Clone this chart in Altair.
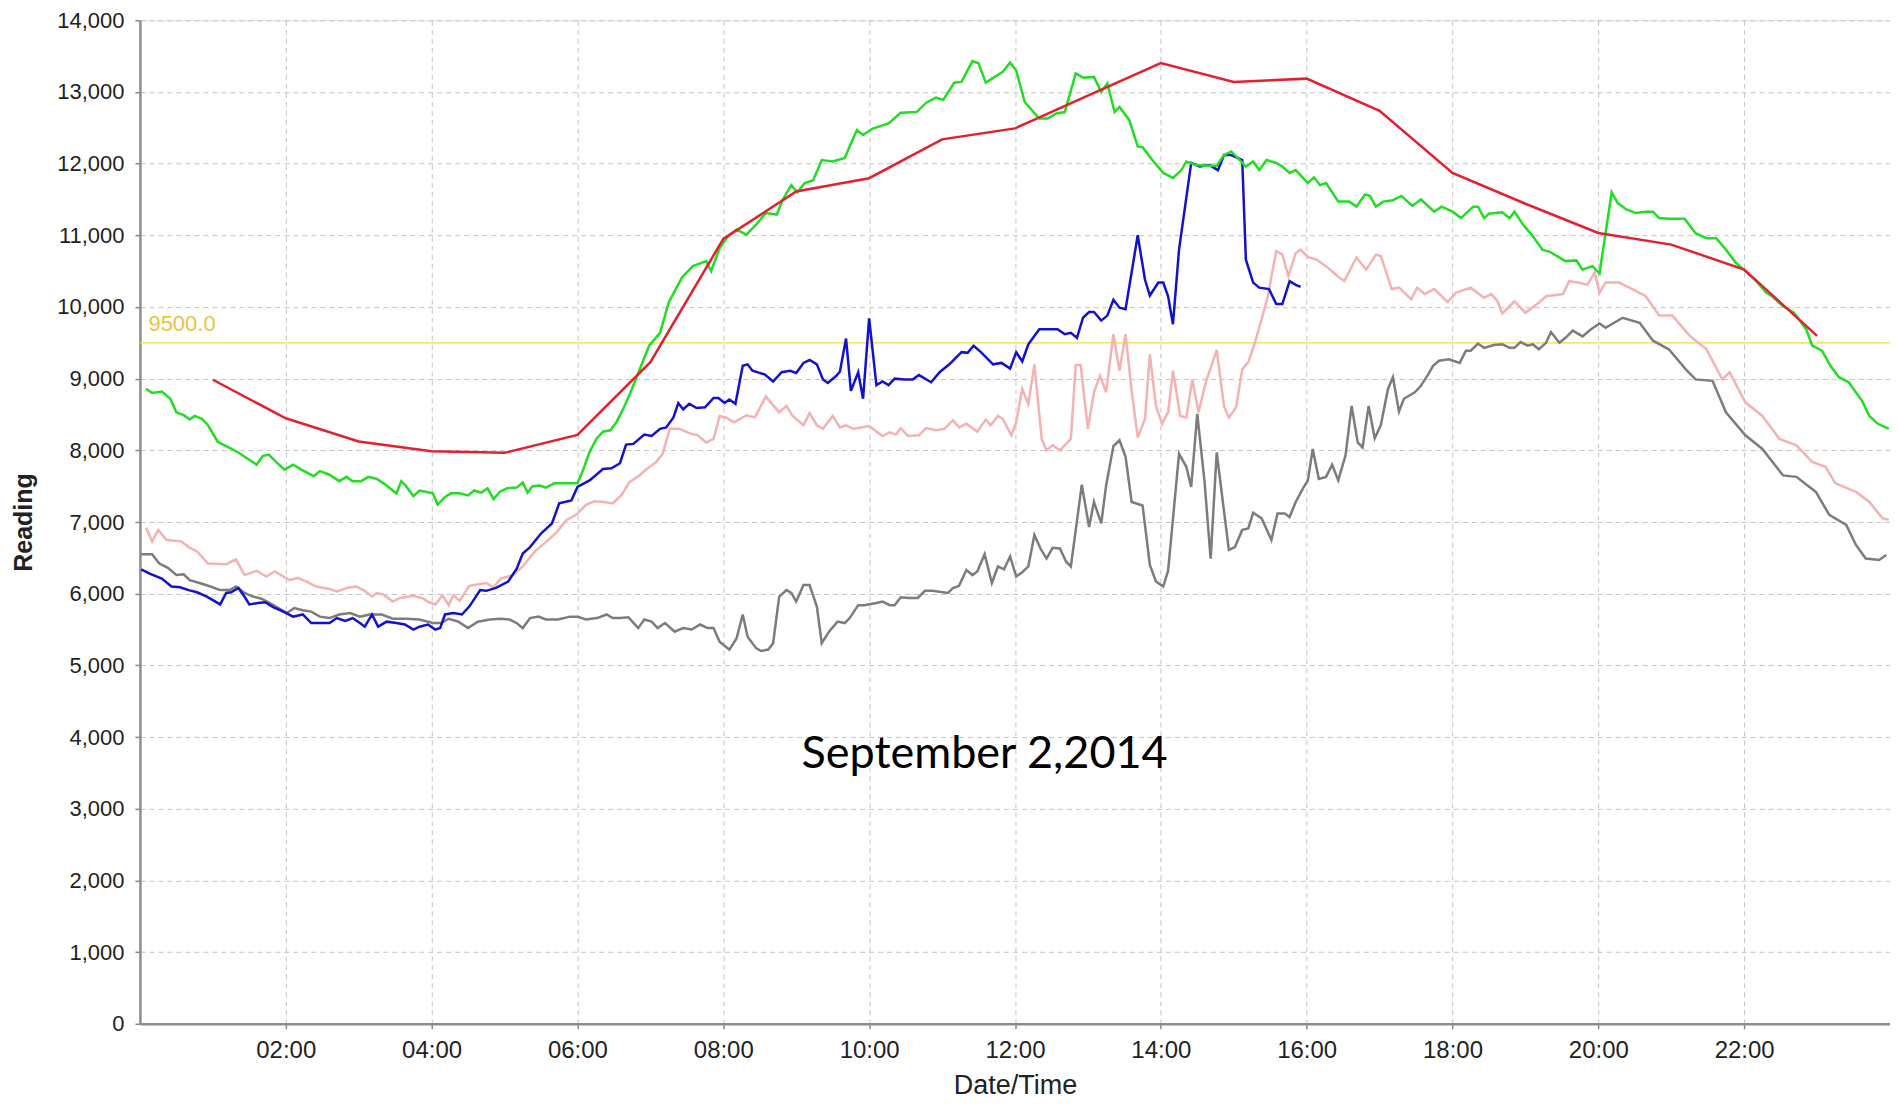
import altair as alt
import pandas as pd

# ---------------- data (minutes after midnight, reading) ----------------
red_min = [60, 120, 180, 240, 300, 360, 420, 480, 540, 600, 660, 720, 780, 840,
           900, 960, 1020, 1080, 1140, 1200, 1260, 1320, 1380]
red_val = [8985, 8447, 8123, 7989, 7965, 8216, 9230, 10949, 11611, 11797, 12339, 12492,
           12950, 13404, 13140, 13186, 12737, 11870, 11440, 11032, 10870, 10523, 9596]

green_min = [5, 10, 18, 25, 30, 36, 41, 45, 51, 56, 64, 73, 81, 89, 96, 101, 106, 112, 119, 126,
             134, 143, 148, 156, 164, 170, 175, 182, 188, 195, 203, 211, 215, 219, 225, 230, 236,
             241, 245, 251, 256, 263, 270, 275, 281, 286, 291, 296, 302, 310, 315, 319, 323, 329,
             334, 341, 348, 354, 360, 365, 370, 376, 381, 387, 392, 398, 403, 419, 428, 435, 446,
             455, 466, 470, 477, 484, 491, 499, 507, 515, 524, 529, 536, 541, 547, 554, 561, 570,
             580, 585, 590, 595, 603, 616, 626, 639, 647, 655, 661, 670, 676, 685, 690, 696, 710,
             716, 721, 728, 740, 747, 754, 761, 770, 776, 785, 791, 796, 802, 806, 814, 821, 825,
             833, 842, 850, 857, 861, 869, 877, 886, 892, 898, 905, 910, 916, 921, 927, 935, 940,
             946, 951, 961, 966, 971, 976, 986, 995, 1001, 1008, 1012, 1017, 1023, 1031, 1038,
             1047, 1054, 1065, 1071, 1080, 1087, 1097, 1101, 1106, 1110, 1121, 1127, 1131, 1138,
             1146, 1154, 1160, 1173, 1182, 1187, 1195, 1201, 1211, 1216, 1223, 1231, 1239, 1245,
             1250, 1258, 1271, 1280, 1289, 1297, 1305, 1313, 1321, 1330, 1338, 1343, 1352, 1361,
             1371, 1376, 1384, 1391, 1398, 1406, 1417, 1423, 1430, 1439]
green_val = [8860, 8800, 8820, 8720, 8530, 8490, 8430, 8480, 8440, 8350, 8120, 8040, 7970, 7880,
             7800, 7920, 7940, 7840, 7730, 7800, 7720, 7640, 7710, 7660, 7570, 7630, 7570, 7570,
             7630, 7600, 7510, 7400, 7570, 7500, 7360, 7440, 7420, 7400, 7240, 7350, 7400, 7400,
             7370, 7440, 7410, 7470, 7320, 7420, 7470, 7480, 7550, 7410, 7500, 7510, 7480, 7540,
             7540, 7540, 7540, 7740, 7980, 8170, 8260, 8280, 8390, 8590, 8780, 9460, 9640, 10060,
             10410, 10570, 10640, 10500, 10820, 10990, 11080, 11010, 11150, 11310, 11290, 11500,
             11700, 11600, 11730, 11770, 12050, 12030, 12080, 12280, 12470, 12400, 12490, 12560,
             12710, 12720, 12850, 12920, 12890, 13130, 13140, 13430, 13400, 13130, 13280, 13410,
             13300, 12860, 12630, 12630, 12700, 12720, 13260, 13200, 13210, 13000, 13120, 12720,
             12790, 12610, 12240, 12230, 12050, 11870, 11800, 11910, 12030, 11980, 11970, 11970,
             12120, 12170, 12050, 11960, 12030, 11910, 12050, 12010, 11960, 11870, 11910, 11730,
             11810, 11700, 11730, 11470, 11470, 11400, 11570, 11550, 11400, 11470, 11490, 11550,
             11410, 11500, 11330, 11400, 11330, 11240, 11400, 11400, 11240, 11300, 11320, 11240,
             11330, 11150, 10990, 10800, 10770, 10640, 10650, 10520, 10570, 10470, 11600, 11450,
             11360, 11310, 11330, 11330, 11240, 11230, 11230, 11030, 10960, 10960, 10800, 10620,
             10500, 10360, 10200, 10150, 10010, 9920, 9690, 9460, 9390, 9180, 9020, 8950, 8690,
             8480, 8370, 8300]

blue_min = [1, 8, 18, 26, 33, 40, 47, 55, 60, 66, 71, 75, 81, 86, 90, 97, 103, 110, 118, 126,
            134, 141, 148, 156, 162, 169, 175, 181, 185, 191, 196, 203, 211, 218, 225, 230, 237,
            243, 247, 251, 258, 265, 271, 280, 285, 293, 303, 310, 315, 321, 330, 339, 345, 355,
            360, 370, 381, 388, 395, 400, 406, 415, 421, 428, 433, 439, 443, 447, 452, 458, 465,
            472, 476, 481, 485, 490, 496, 500, 504, 514, 521, 528, 535, 540, 546, 551, 557, 562,
            566, 573, 576, 581, 585, 591, 595, 600, 606, 611, 616, 621, 629, 636, 641, 651, 658,
            666, 676, 681, 686, 692, 702, 709, 716, 721, 726, 731, 740, 755, 761, 766, 771, 776,
            781, 785, 791, 796, 801, 806, 811, 821, 827, 831, 838, 842, 846, 850, 855, 865, 872,
            880, 887, 892, 898, 903, 907, 910, 916, 921, 929, 935, 940, 946, 951, 955]
blue_val = [6340, 6280, 6210, 6100, 6090, 6050, 6020, 5960, 5910, 5850, 6010, 6020, 6080, 5960,
            5850, 5870, 5880, 5810, 5750, 5680, 5710, 5590, 5590, 5590, 5660, 5620, 5660, 5590,
            5540, 5710, 5540, 5610, 5590, 5570, 5500, 5540, 5570, 5500, 5520, 5710, 5730, 5710,
            5820, 6050, 6040, 6080, 6170, 6350, 6560, 6650, 6840, 6980, 7260, 7300, 7490, 7580,
            7740, 7750, 7820, 8080, 8090, 8220, 8200, 8300, 8320, 8460, 8660, 8570, 8650, 8590,
            8600, 8730, 8730, 8660, 8710, 8650, 9180, 9200, 9110, 9060, 8960, 9090, 9110, 9080,
            9220, 9260, 9200, 8990, 8940, 9040, 9100, 9560, 8830, 9090, 8720, 9840, 8910, 8960,
            8910, 9000, 8990, 8990, 9050, 8950, 9090, 9200, 9370, 9360, 9460, 9370, 9200, 9220,
            9140, 9370, 9240, 9480, 9690, 9690, 9620, 9640, 9570, 9850, 9930, 9930, 9810, 9880,
            10100, 9990, 9970, 11000, 10380, 10160, 10340, 10340, 10150, 9760, 10800, 12010,
            11960, 11980, 11910, 12120, 12120, 12080, 12050, 10660, 10340, 10270, 10250, 10040,
            10040, 10360, 10310, 10280]

pink_min = [5, 10, 15, 22, 34, 40, 47, 56, 71, 79, 86, 96, 104, 111, 118, 123, 130, 138, 145, 155,
            162, 170, 178, 184, 191, 195, 200, 208, 214, 225, 232, 238, 243, 249, 254, 258, 263,
            271, 278, 285, 291, 297, 307, 315, 325, 334, 343, 351, 359, 367, 374, 382, 389, 396,
            403, 411, 417, 425, 430, 436, 444, 452, 459, 466, 472, 477, 482, 489, 499, 506, 515,
            526, 532, 537, 546, 551, 557, 562, 570, 576, 581, 587, 600, 611, 617, 622, 626, 632,
            641, 647, 655, 662, 669, 674, 680, 689, 696, 700, 706, 710, 717, 721, 726, 731, 736,
            742, 746, 751, 757, 766, 770, 774, 780, 785, 790, 795, 801, 806, 811, 816, 821, 827,
            831, 836, 841, 846, 850, 856, 861, 866, 871, 877, 886, 892, 896, 902, 907, 912, 917,
            923, 928, 935, 940, 945, 951, 955, 961, 968, 976, 984, 991, 1001, 1009, 1017, 1021,
            1030, 1036, 1046, 1051, 1057, 1065, 1076, 1083, 1095, 1106, 1112, 1117, 1121, 1131,
            1140, 1151, 1157, 1171, 1176, 1184, 1191, 1197, 1201, 1206, 1217, 1228, 1239, 1250,
            1261, 1275, 1289, 1302, 1308, 1321, 1335, 1349, 1363, 1376, 1387, 1395, 1412, 1423,
            1434, 1439]
pink_val = [6920, 6730, 6890, 6750, 6730, 6650, 6590, 6420, 6410, 6480, 6260, 6320, 6240, 6310,
            6240, 6190, 6220, 6160, 6100, 6070, 6030, 6080, 6100, 6050, 5960, 6010, 5990, 5890,
            5940, 5970, 5940, 5880, 5850, 5980, 5840, 5980, 5900, 6110, 6130, 6150, 6090, 6210,
            6260, 6380, 6590, 6720, 6860, 7030, 7100, 7240, 7290, 7280, 7260, 7370, 7560, 7650,
            7740, 7840, 7950, 8300, 8300, 8240, 8210, 8110, 8160, 8480, 8460, 8390, 8490, 8460,
            8750, 8530, 8620, 8480, 8350, 8520, 8350, 8300, 8480, 8320, 8350, 8300, 8340, 8200,
            8250, 8220, 8310, 8200, 8210, 8310, 8280, 8300, 8420, 8320, 8370, 8260, 8430, 8350,
            8480, 8440, 8210, 8390, 8860, 8650, 9200, 8160, 8000, 8070, 8000, 8160, 9190, 9190,
            8300, 8810, 9040, 8810, 9620, 9110, 9620, 8830, 8180, 8440, 9340, 8620, 8370, 8530,
            9110, 8480, 8460, 8990, 8530, 8950, 9400, 8620, 8460, 8600, 9130, 9230, 9480, 9830,
            10150, 10780, 10730, 10430, 10750, 10800, 10700, 10660, 10570, 10450, 10360, 10690,
            10520, 10730, 10710, 10250, 10270, 10110, 10270, 10180, 10250, 10070, 10200, 10270,
            10130, 10180, 10080, 9910, 10080, 9920, 10060, 10150, 10180, 10360, 10340, 10310,
            10480, 10200, 10340, 10340, 10250, 10150, 9880, 9880, 9600, 9410, 8990, 9090, 8670,
            8480, 8160, 8070, 7840, 7770, 7540, 7420, 7280, 7050, 7030]

gray_min = [1, 10, 16, 23, 30, 36, 41, 49, 58, 66, 74, 79, 86, 93, 100, 107, 114, 121, 127, 134,
            141, 148, 156, 164, 173, 181, 189, 199, 208, 219, 230, 241, 248, 254, 262, 270, 278,
            288, 297, 304, 310, 315, 321, 328, 334, 344, 354, 360, 367, 376, 384, 389, 395, 402,
            410, 415, 421, 426, 432, 440, 447, 454, 461, 467, 472, 477, 485, 491, 496, 500, 507,
            511, 517, 521, 526, 532, 536, 540, 546, 551, 557, 561, 567, 574, 580, 584, 591, 596,
            606, 611, 617, 621, 626, 633, 640, 646, 652, 665, 669, 674, 680, 685, 689, 695, 701,
            706, 711, 716, 721, 726, 731, 736, 741, 746, 751, 757, 762, 766, 775, 781, 785, 791,
            795, 801, 806, 811, 816, 825, 831, 836, 842, 846, 855, 861, 865, 870, 876, 881, 886,
            896, 901, 907, 912, 916, 923, 931, 936, 942, 946, 951, 957, 961, 965, 970, 976, 981,
            986, 992, 997, 1002, 1006, 1011, 1016, 1021, 1027, 1031, 1036, 1040, 1049, 1054, 1060,
            1064, 1069, 1077, 1086, 1091, 1095, 1101, 1106, 1114, 1121, 1127, 1131, 1136, 1142,
            1146, 1151, 1157, 1161, 1168, 1173, 1179, 1187, 1194, 1201, 1206, 1220, 1234, 1245,
            1258, 1272, 1280, 1294, 1305, 1321, 1335, 1352, 1363, 1379, 1390, 1404, 1412, 1420,
            1431, 1437]
gray_val = [6550, 6550, 6420, 6360, 6260, 6270, 6190, 6150, 6100, 6050, 6050, 6100, 6010, 5960,
            5930, 5870, 5800, 5730, 5800, 5770, 5750, 5680, 5660, 5710, 5730, 5680, 5710, 5710,
            5650, 5650, 5640, 5590, 5590, 5650, 5610, 5520, 5610, 5640, 5650, 5640, 5590, 5520,
            5660, 5680, 5640, 5640, 5680, 5680, 5640, 5660, 5710, 5660, 5660, 5670, 5520, 5640,
            5610, 5520, 5590, 5470, 5520, 5500, 5570, 5520, 5520, 5330, 5220, 5380, 5710, 5400,
            5240, 5200, 5220, 5310, 5960, 6050, 6010, 5890, 6120, 6120, 5820, 5310, 5470, 5610,
            5590, 5660, 5840, 5840, 5870, 5890, 5840, 5840, 5950, 5940, 5940, 6040, 6040, 6010,
            6080, 6110, 6330, 6260, 6310, 6550, 6150, 6380, 6340, 6520, 6240, 6300, 6380, 6820,
            6630, 6490, 6640, 6630, 6450, 6380, 7520, 6930, 7280, 6980, 7510, 8060, 8140, 7910,
            7280, 7230, 6400, 6170, 6100, 6320, 7950, 7770, 7490, 8510, 7560, 6490, 7970, 6610,
            6650, 6890, 6910, 7130, 7050, 6750, 7120, 7120, 7070, 7280, 7470, 7580, 8020, 7600,
            7630, 7800, 7580, 7930, 8620, 8110, 8040, 8620, 8170, 8350, 8860, 9020, 8540, 8720,
            8810, 8900, 9060, 9180, 9250, 9270, 9220, 9390, 9390, 9490, 9430, 9470, 9480, 9430,
            9430, 9510, 9460, 9480, 9410, 9500, 9650, 9500, 9570, 9670, 9590, 9690, 9770, 9710,
            9850, 9780, 9530, 9410, 9130, 8990, 8970, 8530, 8210, 8020, 7650, 7630, 7420, 7100,
            6960, 6680, 6490, 6470, 6540]

threshold = 9500
threshold_label = "9500.0"
annotation = "September 2,2014"
annotation_min = 695
annotation_val = 3760
tick_hours = [2, 4, 6, 8, 10, 12, 14, 16, 18, 20, 22]

BASE = pd.Timestamp("2014-09-02 00:00")


def frame(mins, vals):
    return pd.DataFrame({"t": [BASE + pd.Timedelta(minutes=int(m)) for m in mins], "v": vals})


FONT = "Liberation Sans"

x_enc = alt.X(
    "t:T",
    scale=alt.Scale(domain=[alt.DateTime(year=2014, month=9, date=2, hours=0),
                            alt.DateTime(year=2014, month=9, date=3, hours=0)]),
    axis=alt.Axis(
        values=[alt.DateTime(year=2014, month=9, date=2, hours=h) for h in tick_hours],
        format="%H:%M", title="Date/Time", labelFont=FONT, labelFontSize=24,
        labelColor="#222222", labelPadding=10, titleFont=FONT, titleFontSize=27,
        titleFontWeight="normal", titleColor="#222222",
        titleY=62, titleBaseline="middle",
        tickSize=5, tickColor="#888888", tickWidth=1.5,
        domainColor="#8c8c8c", domainWidth=2.5,
        grid=True, gridColor="#c4c4c4", gridDash=[5, 4], gridWidth=1,
    ),
)
y_enc = alt.Y(
    "v:Q",
    scale=alt.Scale(domain=[0, 14000], nice=False),
    axis=alt.Axis(
        values=list(range(0, 14001, 1000)), format=",d", title="Reading",
        labelFont=FONT, labelFontSize=22, labelColor="#222222", labelPadding=11,
        titleFont=FONT, titleFontSize=25, titleFontWeight="bold", titleColor="#222222",
        titleX=-116, titleBaseline="middle",
        tickSize=5, tickColor="#888888", tickWidth=1.5,
        domainColor="#8c8c8c", domainWidth=2.5,
        grid=True, gridColor="#c4c4c4", gridDash=[5, 4], gridWidth=1,
    ),
)


def line(mins, vals, color, width=2.5):
    return alt.Chart(frame(mins, vals)).mark_line(color=color, strokeWidth=width).encode(
        x=x_enc, y=y_enc)


rule = alt.Chart(pd.DataFrame({"v": [threshold]})).mark_rule(
    color="#f2dc3a", strokeWidth=1.3).encode(y=alt.Y("v:Q", scale=alt.Scale(domain=[0, 14000], nice=False)))

rule_label = alt.Chart(pd.DataFrame({
    "t": [BASE + pd.Timedelta(minutes=7)], "v": [threshold], "label": [threshold_label]
})).mark_text(align="left", baseline="alphabetic", dy=-12, color="#e9c43c",
              font=FONT, fontSize=22).encode(x=x_enc, y=y_enc, text="label:N")

note = alt.Chart(pd.DataFrame({
    "t": [BASE + pd.Timedelta(minutes=annotation_min)], "v": [annotation_val], "label": [annotation]
})).mark_text(align="center", baseline="middle", color="#000000",
              font="Lato", fontSize=45).encode(x=x_enc, y=y_enc, text="label:N")

chart = alt.layer(
    rule,
    line(gray_min, gray_val, "#7c7c7c"),
    line(pink_min, pink_val, "#f4b2b2"),
    line(blue_min, blue_val, "#1212cc"),
    line(green_min, green_val, "#22dd22"),
    line(red_min, red_val, "#e2202e"),
    rule_label,
    note,
).properties(
    width=1751, height=1004,
    autosize=alt.AutoSizeParams(type="none"),
    padding={"left": 132, "top": 12, "right": 0, "bottom": 76},
).configure_view(stroke="#9a9a9a", strokeWidth=1).configure(background="white")

chart.save("out.html", embed_options={"renderer": "svg", "actions": False})
